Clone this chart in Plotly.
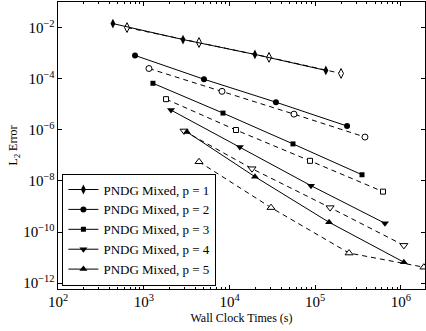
import plotly.graph_objects as go

# Wall clock time (s) and L2 error for each polynomial order
orders = [1, 2, 3, 4, 5]

time_solid = {
    1: [437, 2870, 19800, 133000],
    2: [791, 5040, 34800, 235000],
    3: [1280, 8400, 55000, 351000],
    4: [2080, 13200, 89200, 650000],
    5: [3190, 19800, 145000, 1.08e6],
}
err_solid = {
    1: [1.43e-2, 3.4e-3, 8.9e-4, 2.1e-4],
    2: [8.1e-4, 9.5e-5, 1.2e-5, 1.4e-6],
    3: [6.6e-5, 4.5e-6, 2.8e-7, 1.74e-8],
    4: [5.9e-6, 2.1e-7, 6.5e-9, 2.2e-10],
    5: [8.2e-7, 1.46e-8, 2.4e-10, 6.6e-12],
}
time_dashed = {
    1: [638, 4410, 28900, 200000],
    2: [1150, 8180, 56500, 380000],
    3: [1820, 11900, 86900, 617000],
    4: [2950, 18300, 149000, 1.08e6],
    5: [4410, 30500, 248000, 1.85e6],
}
err_dashed = {
    1: [1.0e-2, 2.6e-3, 6.8e-4, 1.6e-4],
    2: [2.5e-4, 3.2e-5, 4.1e-6, 5.2e-7],
    3: [1.58e-5, 9.8e-7, 6.1e-8, 3.8e-9],
    4: [9e-7, 3e-8, 9e-10, 3e-11],
    5: [5.6e-8, 9e-10, 1.5e-11, 4.2e-12],
}

symbols = {1: "diamond-tall", 2: "circle", 3: "square", 4: "triangle-down", 5: "triangle-up"}
sizes = {1: 7, 2: 6, 3: 5, 4: 7, 5: 7}

FONT = "Liberation Serif, Times New Roman, serif"

fig = go.Figure()

for p in orders:
    fig.add_trace(go.Scatter(
        x=time_dashed[p], y=err_dashed[p], mode="lines+markers",
        line=dict(color="black", width=1, dash="5px,4px"),
        marker=dict(symbol=symbols[p], size=sizes[p], color="white",
                    line=dict(color="black", width=1)),
        showlegend=False,
    ))

for p in orders:
    fig.add_trace(go.Scatter(
        x=time_solid[p], y=err_solid[p], mode="lines+markers",
        name=f"PNDG Mixed, p = {p}",
        line=dict(color="black", width=1),
        marker=dict(symbol=symbols[p], size=sizes[p], color="black",
                    line=dict(color="black", width=0)),
    ))

axis_common = dict(
    type="log", showgrid=False, zeroline=False,
    showline=True, linecolor="black", linewidth=1, mirror="allticks",
    ticks="inside", ticklen=4, tickcolor="black",
    exponentformat="power", showexponent="all",
    tickfont=dict(family=FONT, size=12, color="black"),
)

fig.update_xaxes(
    **axis_common,
    range=[2, 6.28], dtick=1,
    minor=dict(ticks="inside", ticklen=2, tickcolor="black", showgrid=False),
    title=dict(text="Wall Clock Times (s)", font=dict(family=FONT, size=12, color="black"), standoff=4),
)
fig.update_yaxes(
    **axis_common,
    range=[-12.23, -1], dtick=2, tick0=0,
    title=dict(text="L<sub>2</sub> Error", font=dict(family=FONT, size=12, color="black"), standoff=2),
)

fig.update_layout(
    width=426, height=331,
    margin=dict(l=58, r=1, t=2, b=42),
    paper_bgcolor="white", plot_bgcolor="white",
    font=dict(family=FONT, size=12, color="black"),
    legend=dict(
        x=0.012, y=0.012, xanchor="left", yanchor="bottom",
        bgcolor="white", bordercolor="black", borderwidth=1,
        font=dict(family=FONT, size=13, color="black"),
        tracegroupgap=0, itemwidth=30,
    ),
)

fig.write_html("out.html")
